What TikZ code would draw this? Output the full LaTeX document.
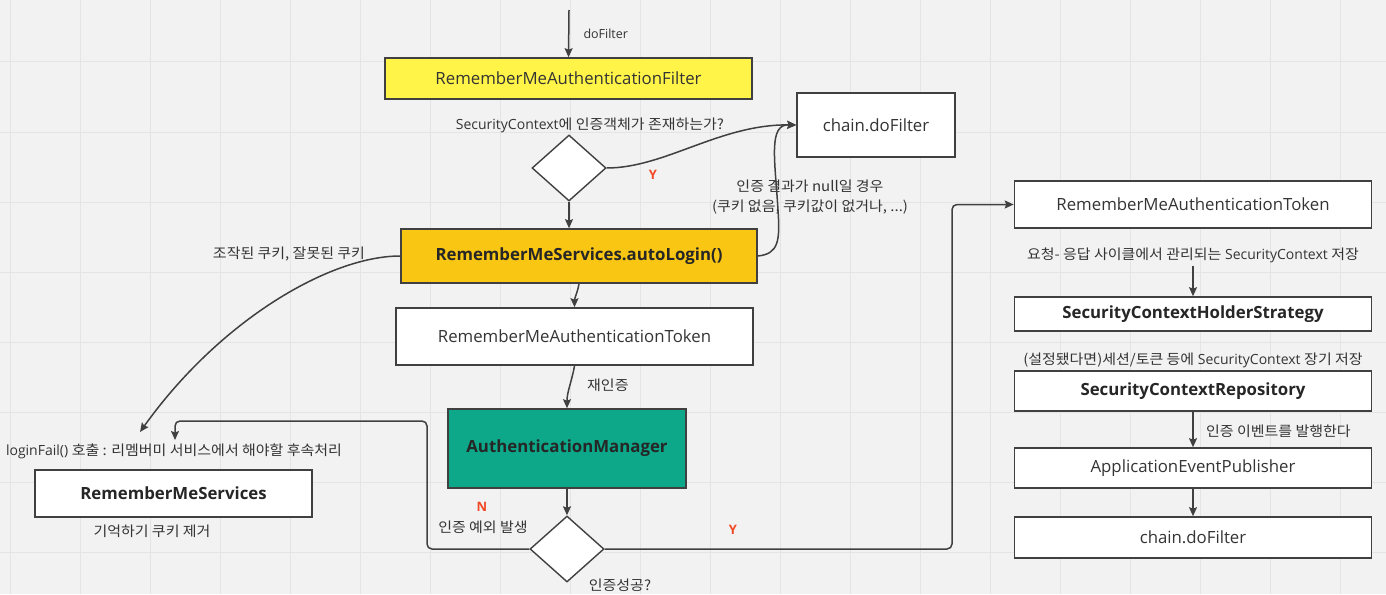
\documentclass[tikz,border=0pt]{standalone}
\usepackage{fontspec}
\setmainfont{Open Sans}
\newfontfamily\kr[FakeStretch=1.07]{Noto Sans CJK KR}
\usetikzlibrary{shapes.geometric,arrows.meta,positioning}
\definecolor{bggray}{RGB}{242,242,242}
\definecolor{gridgray}{RGB}{228,228,228}
\definecolor{linegray}{RGB}{64,64,64}
\definecolor{textgray}{RGB}{52,52,52}
\definecolor{filteryellow}{RGB}{255,244,71}
\definecolor{loginamber}{RGB}{249,198,20}
\definecolor{managerteal}{RGB}{13,167,137}
\definecolor{yesred}{RGB}{242,72,38}

\begin{document}
\begin{tikzpicture}[
    x=1pt, y=-1pt,
    >={Stealth[length=9pt,width=8pt,inset=1.5pt]},
    gridline/.style={draw=gridgray, line width=1pt},
    box/.style={rectangle, draw=linegray, line width=1.6pt, fill=white, text=textgray, inner sep=0pt, font=\fontsize{16.8pt}{19pt}\selectfont},
    boldbox/.style={box, font=\fontsize{16.8pt}{19pt}\selectfont\bfseries, text=black!85},
    decision/.style={diamond, draw=linegray, line width=1.4pt, fill=white, inner sep=0pt, minimum width=74pt, minimum height=66pt},
    note/.style={text=textgray, inner sep=0pt, align=center, font=\fontsize{14pt}{20pt}\selectfont},
    yesno/.style={text=yesred, inner sep=0pt, font=\fontsize{13pt}{15pt}\selectfont\bfseries},
    flow/.style={->, draw=linegray, line width=1.5pt},
    loop/.style={->, draw=linegray, line width=1.5pt, rounded corners=5pt}
]
\fill[bggray] (0,0) rectangle (1386,594);
\useasboundingbox (0,0) rectangle (1386,594);
\foreach \x in {10,80,...,1380} \draw[gridline] (\x,0) -- (\x,594);
\foreach \y in {62,132,...,552} \draw[gridline] (0,\y) -- (1386,\y);

\coordinate (top) at (569,10);
\node[box, fill=filteryellow, minimum width=367pt, minimum height=41pt] (filter) at (568.5,78.5) {RememberMeAuthenticationFilter};
\node[note] (q1) at (590,125) {SecurityContext{\kr 에 인증객체가 존재하는가?}};
\node[decision] (d1) at (569,168) {};
\node[box, minimum width=158pt, minimum height=64pt] (chain1) at (876,125) {chain.doFilter};
\node[boldbox, fill=loginamber, minimum width=356pt, minimum height=54pt] (auto) at (579,256) {RememberMeServices.autoLogin()};
\node[note] (nulltxt) at (810,197) {\kr 인증 결과가 null일 경우\\\kr (쿠키 없음, 쿠키값이 없거나, ...)};
\node[note] (badtxt) at (289,254) {\kr 조작된 쿠키, 잘못된 쿠키};
\node[box, minimum width=357pt, minimum height=57pt] (token1) at (574.5,336.5) {RememberMeAuthenticationToken};
\node[note, anchor=west] (reauth) at (587,385) {\kr 재인증};
\node[boldbox, fill=managerteal, minimum width=238pt, minimum height=79pt] (am) at (567,448.5) {AuthenticationManager};
\node[decision] (d2) at (567,549) {};
\node[note] (oktxt) at (620,585) {\kr 인증성공?};
\node[yesno] (ntxt) at (482,507) {N};
\node[note] (exctxt) at (483,527) {\kr 인증 예외 발생};
\node[yesno] (y1) at (653,175) {Y};
\node[yesno] (y2) at (733,530) {Y};
\node[note] (failtxt) at (174,451) {loginFail() {\kr 호출 : 리멤버미 서비스에서 해야할 후속처리}};
\node[boldbox, minimum width=277pt, minimum height=47pt] (rms) at (173.5,493.5) {RememberMeServices};
\node[note] (forgettxt) at (152,531) {\kr 기억하기 쿠키 제거};
\coordinate (failin) at (140,432);
\coordinate (failin2) at (175,440);

\node[box, minimum width=357pt, minimum height=47pt] (token2) at (1193,204.5) {RememberMeAuthenticationToken};
\node[note] (storetxt) at (1193,255) {{\kr 요청- 응답 사이클에서 관리되는} SecurityContext {\kr 저장}};
\node[boldbox, minimum width=357pt, minimum height=34pt] (holder) at (1193,314) {SecurityContextHolderStrategy};
\node[note] (repotxt) at (1193,360) {{\kr (설정됐다면)세션/토큰 등에} SecurityContext {\kr 장기 저장}};
\node[boldbox, minimum width=357pt, minimum height=40pt] (repo) at (1193,391) {SecurityContextRepository};
\node[note, anchor=west] (eventtxt) at (1206,431) {\kr 인증 이벤트를 발행한다};
\node[box, minimum width=357pt, minimum height=40pt] (publisher) at (1193,468) {ApplicationEventPublisher};
\node[box, minimum width=357pt, minimum height=41pt] (chain2) at (1193,537.5) {chain.doFilter};

\draw[flow] (top) -- node[note, right=14pt, font=\fontsize{12.5pt}{14pt}\selectfont] {doFilter} (filter.north);
\draw[flow] (d1.south) -- (d1.south |- auto.north);
\draw[flow] (d1.east) .. controls (665,168) and (720,124) .. (chain1.west);
\draw[flow] (auto.east) .. controls (779,254) and (780,240) .. (778,210) .. controls (775,160) and (768,124) .. (chain1.west);
\draw[flow] (auto.west) .. controls (330,256) and (220,320) .. (failin);
\draw[flow] (auto.south) to[out=-100,in=90] (token1.north);
\draw[flow] (token1.south) to[out=-100,in=90] (am.north);
\draw[flow] (am.south) -- (d2.north);
\draw[loop] (d2.west) -- (427,549) -- (427,421) -- (175,421) -- (failin2);
\draw[loop] (d2.east) -- (952,549) -- (952,204.5) -- (token2.west);
\draw[flow] (storetxt.south) ++(0,3) -- (holder.north);
\draw[flow] (repo.south) -- (publisher.north);
\draw[flow] (publisher.south) -- (chain2.north);
\end{tikzpicture}
\end{document}
